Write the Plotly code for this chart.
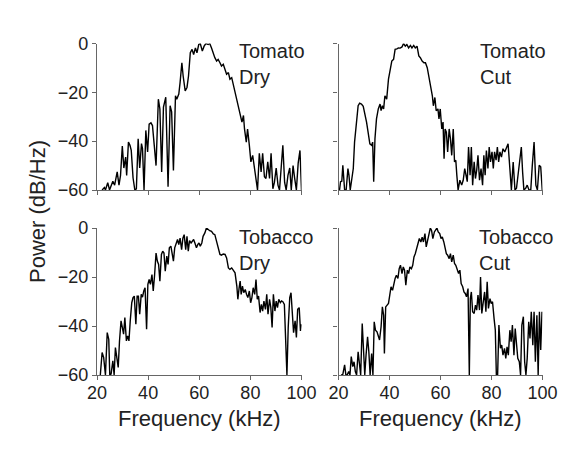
import plotly.graph_objects as go

# ---------------- data ----------------
tomato_dry_f = [22.0,22.9,23.3,24.2,24.9,26.2,26.9,27.2,27.9,28.6,
                29.2,29.9,30.5,31.2,31.6,32.3,32.9,33.4,34.1,34.8,
                35.4,36.1,36.7,37.4,37.8,38.4,39.1,39.8,40.4,41.1,
                41.7,42.4,43.1,44.0,44.6,45.3,46.0,46.9,47.8,48.6,
                49.2,49.9,50.7,51.2,52.0,52.5,53.2,53.7,54.5,55.2,
                55.8,56.5,57.2,57.8,58.5,59.1,59.8,60.4,61.2,61.9,
                62.6,63.5,64.1,64.8,65.5,66.1,66.8,67.4,68.1,68.7,
                69.4,70.1,70.7,71.4,72.0,72.7,73.4,74.0,74.7,75.3,
                76.0,76.7,77.3,77.7,78.4,78.9,79.6,80.2,80.9,81.5,
                82.2,82.8,83.5,84.2,84.8,85.5,86.1,86.8,87.5,88.1,
                88.8,89.4,90.1,90.8,91.4,92.1,92.7,93.4,94.0,94.7,
                95.4,96.0,96.7,97.3,98.0,98.7,99.4,100.0]
tomato_dry_db = [-60,-59,-60,-57,-60,-56.4,-58,-56,-52.6,-58,
                 -54,-42,-51,-46.5,-54,-40.4,-41.7,-43.8,-55,-60,
                 -59.5,-39,-51,-41,-43,-60,-35.6,-44.4,-33,-32.5,
                 -33.6,-41.7,-50,-22.8,-26.8,-52.6,-26,-22,-58.7,-25.5,
                 -28,-52,-21.4,-22.8,-20.7,-16,-7.9,-13.3,-19.4,-18,
                 -13.3,-3.8,-2.4,-4.5,-1.8,-3.8,-0.4,0,-3.1,-1.1,
                 0,-0.4,0,-1.8,-4.5,-5.8,-7.2,-6.5,-7.9,-9.2,
                 -8.5,-10.6,-12.6,-11.9,-14.6,-14,-17.3,-20.7,-23.4,-26.8,
                 -30.2,-32.2,-29.5,-35,-40.4,-35,-41.7,-48.5,-45.8,-50.5,
                 -54,-60,-45,-52.6,-45,-54.6,-55.3,-48.5,-55.3,-45,
                 -59.5,-56.9,-51,-58,-60,-50,-41.7,-56.9,-60,-54,
                 -51,-60,-50,-55,-60,-49,-43.8,-60]

tomato_cut_f = [20.4,20.8,21.3,21.7,22.4,23.0,23.7,24.1,24.6,25.3,
                25.8,26.3,27.0,27.7,28.3,29.0,29.7,30.3,31.0,31.6,
                32.3,33.0,33.4,33.8,34.3,34.9,35.6,36.3,36.7,37.2,
                37.7,38.2,38.9,39.6,40.2,40.9,41.6,42.2,42.9,43.5,
                44.2,44.9,45.5,46.2,46.8,47.5,48.2,48.8,49.5,50.1,
                50.8,51.5,52.1,52.8,53.5,54.1,54.8,55.4,56.1,56.8,
                57.2,57.8,58.3,59.0,59.4,59.9,60.5,61.0,61.4,61.8,
                62.3,62.8,63.4,63.9,64.4,65.0,65.5,66.0,66.4,66.9,
                67.6,68.3,68.9,69.5,70.0,70.5,71.0,71.6,72.1,72.6,
                73.2,73.7,74.2,74.7,75.3,75.9,76.5,77.0,77.5,78.0,
                78.6,79.1,79.6,80.2,80.7,81.2,81.8,82.3,82.8,83.3,
                83.9,84.5,85.2,85.9,86.5,87.2,87.8,88.5,89.2,89.8,
                90.5,91.1,91.7,92.2,92.7,93.4,94.0,94.7,95.4,96.0,
                96.7,97.4,98.0,98.7,99.3,99.9]
tomato_cut_db = [-60,-56.6,-56.4,-49.9,-60,-60,-51.2,-53.9,-60,-53.9,
                 -51.2,-40.4,-32.2,-25.5,-24.4,-24.8,-25.7,-28.2,-32.2,-36.3,
                 -41.1,-41.7,-40.4,-56.6,-39,-30.9,-26.8,-24.8,-27.5,-25.5,
                 -26.8,-21.4,-22.8,-14.6,-10.6,-7.2,-6.5,-2.4,-2.2,-1.8,
                 -1.9,-1.4,0,-1.1,-0.4,-1.8,-0.8,-1.8,-0.8,-1.8,
                 -1.1,-5.1,-5.8,-7.2,-7.9,-7.9,-9.9,-13.3,-18.7,-21.4,
                 -25.5,-22.1,-27.5,-26.8,-30.9,-26.8,-35,-32.2,-47.2,-35,
                 -36.3,-44.4,-35,-39,-45.8,-35,-48.5,-47.8,-53.9,-60,
                 -56,-58,-56,-51.2,-53.9,-56.6,-42.4,-53.9,-42.4,-58,
                 -48.5,-55.3,-51.9,-45.8,-56,-51.2,-58,-45.8,-53.9,-43.8,
                 -51.2,-42.4,-48.5,-44.4,-51.2,-44.4,-47.8,-42.4,-48.5,-44.4,
                 -46.5,-43.1,-44.4,-42.4,-41.1,-51.2,-60,-48.5,-60,-59.3,
                 -52.6,-48.5,-42.4,-52.6,-60,-59.3,-58,-60,-60,-49.9,
                 -40.4,-58,-60,-49.9,-50.5,-60]

tobacco_dry_f = [21.3,22.0,22.6,23.3,24.0,24.6,25.0,25.5,26.2,26.7,
                 27.2,27.8,28.3,28.8,29.4,29.9,30.4,30.9,31.5,32.0,
                 32.5,33.0,33.6,34.1,34.6,35.2,35.7,36.2,36.7,37.3,
                 37.8,38.3,38.8,39.4,39.9,40.4,40.9,41.5,42.0,42.5,
                 43.1,43.6,44.1,44.6,45.2,45.7,46.2,46.7,47.3,47.8,
                 48.3,48.9,49.4,49.9,50.4,51.0,51.5,52.0,52.5,53.1,
                 53.6,54.1,54.7,55.2,55.7,56.2,56.8,57.3,57.8,58.3,
                 58.9,59.4,59.9,60.4,61.0,61.5,62.2,62.8,63.5,64.1,
                 64.8,65.5,66.1,66.8,67.4,68.1,68.7,69.4,70.1,70.7,
                 71.4,72.0,72.7,73.4,74.0,74.7,75.1,75.6,76.0,76.4,
                 76.9,77.4,78.0,78.5,79.0,79.6,80.1,80.6,81.1,81.7,
                 82.2,82.7,83.2,83.8,84.3,84.8,85.3,85.9,86.4,86.9,
                 87.5,88.0,88.5,89.0,89.6,90.1,90.6,91.1,91.7,92.2,
                 92.7,93.3,93.8,94.3,94.8,95.4,95.9,96.4,96.9,97.5,
                 98.0,98.5,99.1,99.6,100.0]
tobacco_dry_db = [-60,-50.8,-52.8,-60,-42.7,-45.4,-60,-59.6,-54.2,-60,
                  -48.8,-52.8,-56.9,-46.1,-37.9,-40.6,-43.3,-36.6,-46.1,-44,
                  -46.1,-37.9,-30.5,-28.4,-27.8,-39.3,-27.8,-27.8,-35.2,-27.1,
                  -28.2,-25.7,-24.4,-41.3,-23,-21,-23,-19,-25.7,-19.6,
                  -10.2,-13.5,-14.9,-21.7,-10.8,-9.5,-10.2,-17.6,-11.5,-14.9,
                  -8.1,-7.4,-10.8,-13.5,-8.1,-6.1,-4.7,-6.8,-4.1,-8.8,
                  -4.1,-2.7,-8.8,-3.4,-9.5,-5.1,-6.1,-5.4,-4.7,-6.1,
                  -8.1,-6.8,-6.1,-7.4,-6.1,-3.4,-2,0,-0.7,-1.1,
                  -1.4,-2.4,-2.7,-5.4,-8.1,-10.8,-11.1,-10.6,-10.8,-12.2,
                  -16.3,-16.9,-16.3,-17.6,-18.3,-23.7,-29.1,-24.4,-21.7,-27.1,
                  -23.7,-26.4,-25.1,-27.1,-28.4,-25.7,-30.5,-28.4,-24.4,-27.1,
                  -21,-29.1,-27.8,-34.5,-31.2,-33.9,-29.8,-33.2,-27.1,-35.2,
                  -29.1,-32.5,-40.6,-27.1,-33.9,-29.8,-32.5,-29.1,-30.5,-29.8,
                  -30.1,-31.2,-46.1,-60,-40.6,-28.4,-26.4,-33.9,-42.7,-37.9,
                  -44.7,-33.2,-32.5,-42,-39.3]

tobacco_cut_f = [21.1,21.7,22.4,22.9,23.4,24.0,24.5,25.0,25.6,26.1,
                 26.6,27.1,27.7,28.2,28.7,29.3,29.8,30.3,30.8,31.4,
                 31.9,32.4,33.0,33.5,34.0,34.5,35.1,35.6,36.1,36.7,
                 37.2,37.7,38.0,38.5,39.0,39.6,40.1,40.6,41.2,41.7,
                 42.2,42.7,43.3,43.8,44.3,44.9,45.4,45.9,46.4,47.0,
                 47.5,48.0,48.6,49.1,49.6,50.1,50.7,51.2,51.7,52.3,
                 52.8,53.3,53.9,54.4,54.9,55.4,56.0,56.5,57.0,57.6,
                 58.1,58.6,59.1,59.7,60.2,60.7,61.3,61.8,62.3,62.8,
                 63.4,63.9,64.4,65.0,65.5,66.0,66.5,67.1,67.6,68.1,
                 68.7,69.2,69.7,70.2,70.8,71.3,71.7,72.1,72.6,73.2,
                 73.7,74.2,74.7,75.3,75.7,76.2,76.7,77.3,77.8,78.3,
                 78.8,79.4,79.9,80.4,81.0,81.5,81.9,82.4,82.9,83.5,
                 84.0,84.5,85.1,85.6,86.1,86.6,87.2,87.7,88.2,88.8,
                 89.3,89.8,90.3,90.9,91.4,91.9,92.5,93.0,93.5,94.0,
                 94.6,95.1,95.6,96.2,96.7,97.2,97.8,98.3,98.8,99.3,
                 99.8]
tobacco_cut_db = [-60,-59.7,-55.9,-60,-60,-58.6,-60,-52.5,-56.6,-54.6,
                  -58.6,-60,-50.5,-55.9,-60,-39,-53.2,-60,-51.9,-44.4,
                  -50.5,-60,-51.2,-60,-38.3,-41.7,-42.4,-43.7,-45.7,-40.3,
                  -32.2,-35.6,-51.2,-32.2,-31.5,-30.8,-27.4,-24,-25.4,-22.7,
                  -20.6,-19.3,-20.6,-16.6,-15.2,-18.6,-15.9,-17.2,-23.3,-17.2,
                  -18.6,-15.9,-16.6,-15.2,-11.8,-10.5,-7.7,-6.4,-4.3,-5.7,
                  -3.7,-5.7,-2.3,-7.7,-5,-3,0,-1,-4.3,-1.6,
                  -1,0,-1.6,-2.3,-4.3,-3.7,-5.7,-8.4,-10.5,-11.1,
                  -12.5,-10.5,-13.8,-11.1,-14.5,-15.2,-16.6,-18.6,-17.2,-22.7,
                  -24,-26.1,-26.7,-28.1,-24.7,-60,-28.8,-26.1,-34.2,-34.9,
                  -31.5,-33.5,-27.4,-33.5,-20,-34.9,-30.8,-26.1,-34.2,-22,
                  -32.8,-28.8,-30.8,-30.1,-36.9,-41.7,-60,-60,-39.6,-49.1,
                  -47.8,-51.9,-49.1,-53.2,-48.5,-51.9,-41.7,-46.4,-39.6,-51.9,
                  -41,-49.1,-53.2,-54.6,-60,-39.6,-36.2,-54.6,-60,-53.2,
                  -38.3,-45.1,-34.2,-47.8,-34.2,-54.6,-35.6,-60,-34.2,-49.8,
                  -34.2]

panel_labels = ["Tomato<br>Dry", "Tomato<br>Cut", "Tobacco<br>Dry", "Tobacco<br>Cut"]
x_ticks = [20, 40, 60, 80, 100]
y_ticks = [0, -20, -40, -60]
x_title = "Frequency (kHz)"
y_title = "Power (dB/Hz)"

# ---------------- figure ----------------
W, H = 585, 449
FONT = "Liberation Sans, Arial, Helvetica, sans-serif"
TXT = "#222222"
AX = "#666666"

def px_x(p):
    return p / W

def px_y(p):
    return (H - p) / H

x_dom = {1: [px_x(97), px_x(301.5)], 2: [px_x(338.5), px_x(542.5)]}
y_dom = {1: [px_y(190), px_y(43.5)], 2: [px_y(375), px_y(228)]}

series = [(tomato_dry_f, tomato_dry_db), (tomato_cut_f, tomato_cut_db),
          (tobacco_dry_f, tobacco_dry_db), (tobacco_cut_f, tobacco_cut_db)]

fig = go.Figure()
layout = dict(width=W, height=H, margin=dict(l=0, r=0, t=0, b=0, autoexpand=False),
              paper_bgcolor="white", plot_bgcolor="white", showlegend=False,
              font=dict(family=FONT, color=TXT))

for i, (fx, fy) in enumerate(series):
    k = i + 1
    sfx = "" if k == 1 else str(k)
    col = 1 if i % 2 == 0 else 2
    row = 1 if i < 2 else 2
    fig.add_trace(go.Scatter(x=fx, y=fy, mode="lines",
                             line=dict(color="black", width=1.4),
                             xaxis="x" + sfx, yaxis="y" + sfx, cliponaxis=True))
    layout["xaxis" + sfx] = dict(domain=x_dom[col], anchor="y" + sfx, range=[20, 100],
                                 tickvals=x_ticks, showticklabels=(row == 2),
                                 ticks="outside", ticklen=4, tickwidth=1.1, tickcolor=AX,
                                 showline=True, linecolor=AX, linewidth=1.1,
                                 showgrid=False, zeroline=False, automargin=False,
                                 ticklabelstandoff=-3,
                                 tickfont=dict(size=18, color=TXT, family=FONT))
    layout["yaxis" + sfx] = dict(domain=y_dom[row], anchor="x" + sfx, range=[-60, 0],
                                 tickvals=y_ticks, showticklabels=(col == 1),
                                 ticks="outside", ticklen=4, tickwidth=1.1, tickcolor=AX,
                                 showline=True, linecolor=AX, linewidth=1.1,
                                 showgrid=False, zeroline=False, automargin=False,
                                 tickfont=dict(size=18, color=TXT, family=FONT))

fig.update_layout(**layout)

ann_pos = [(237, 38), (478, 38), (237, 224), (477, 224)]
for lab, (ax_, ay_) in zip(panel_labels, ann_pos):
    fig.add_annotation(text=lab, x=px_x(ax_), y=px_y(ay_), xref="paper", yref="paper",
                       xanchor="left", yanchor="top", align="left", showarrow=False,
                       font=dict(size=20, color=TXT, family=FONT))

for cx in (199.5, 440.5):
    fig.add_annotation(text=x_title, x=px_x(cx), y=px_y(418), xref="paper", yref="paper",
                       xanchor="center", yanchor="middle", showarrow=False,
                       font=dict(size=22, color=TXT, family=FONT))

fig.add_annotation(text=y_title, x=px_x(37), y=px_y(212), xref="paper", yref="paper",
                   xanchor="center", yanchor="middle", textangle=-90, showarrow=False,
                   font=dict(size=22, color=TXT, family=FONT))

fig.write_html("out.html")
